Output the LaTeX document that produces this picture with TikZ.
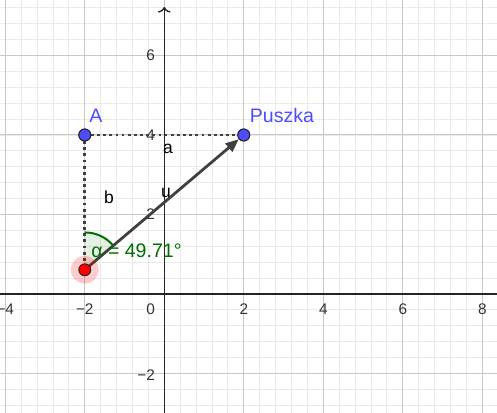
\documentclass[tikz,border=0pt]{standalone}
\usepackage{fontspec}
\setmainfont{Liberation Sans}
\usetikzlibrary{arrows.meta}
\definecolor{ptblue}{RGB}{77,77,255}
\definecolor{anggreen}{RGB}{0,110,0}
\definecolor{vecgray}{RGB}{64,64,64}
\definecolor{majorgrid}{RGB}{200,200,200}
\definecolor{minorgrid}{RGB}{234,234,234}
\definecolor{axiscol}{RGB}{37,37,37}
\definecolor{ticktext}{RGB}{51,51,51}
\begin{document}
\begin{tikzpicture}[x=1cm,y=1cm,
  ticklab/.style={font=\fontsize{11}{12}\selectfont, text=ticktext, inner sep=0pt},
  ptlabel/.style={font=\fontsize{14}{16}\selectfont, text=ptblue, inner sep=0pt},
  seglabel/.style={font=\fontsize{12.5}{14}\selectfont, text=black, inner sep=0pt},
  anglabel/.style={font=\fontsize{14}{16}\selectfont, text=anggreen, inner sep=0pt},
  pt/.style={circle, draw=black!85, line width=0.7pt, minimum size=0.3cm, inner sep=0pt},
  dotline/.style={draw=vecgray, line width=2pt, dash pattern=on 2pt off 2.4pt},
  minorline/.style={draw=minorgrid, line width=0.6pt},
  majorline/.style={draw=majorgrid, line width=0.7pt},
  axisline/.style={draw=axiscol, line width=1pt},
]
\useasboundingbox (-4.133,-2.969) rectangle (8.370,7.396);
\fill[white] (-4.133,-2.969) rectangle (8.370,7.396);
\clip (-4.133,-2.969) rectangle (8.370,7.396);
% minor grid
\foreach \i in {-11,...,22} \draw[minorline] ({0.4*\i},-3.2) -- ({0.4*\i},7.6);
\foreach \j in {-8,...,19} \draw[minorline] (-4.4,{0.4*\j}) -- (8.8,{0.4*\j});
% major grid
\foreach \i in {-4,-2,...,8} \draw[majorline] (\i,-3.2) -- (\i,7.6);
\foreach \j in {-2,0,...,6} \draw[majorline] (-4.4,\j) -- (8.8,\j);
% axes
\coordinate (xl) at (-4.3,0);
\coordinate (xr) at (8.5,0);
\coordinate (yb) at (0,-3.1);
\coordinate (yt) at (0,7.22);
\draw[axisline] (xl) -- (xr);
\draw[axisline, -{To[length=4pt, width=9pt]}] (yb) -- (yt);
% tick labels
\node[ticklab] (tx1) at (-4,-0.39) {−4};
\node[ticklab] (tx2) at (-2,-0.39) {−2};
\node[ticklab] (tx0) at (-0.34,-0.39) {0};
\node[ticklab] (tx3) at (2,-0.39) {2};
\node[ticklab] (tx4) at (4,-0.39) {4};
\node[ticklab] (tx5) at (6,-0.39) {6};
\node[ticklab] (tx6) at (8,-0.39) {8};
\node[ticklab, anchor=east] (ty1) at (-0.23,6) {6};
\node[ticklab, anchor=east] (ty2) at (-0.23,4) {4};
\node[ticklab, anchor=east] (ty3) at (-0.23,2) {2};
\node[ticklab, anchor=east] (ty4) at (-0.23,-2.03) {−2};
% points
\node[pt, fill=ptblue] (A) at (-2,4) {};
\node[pt, fill=ptblue] (P) at (2,4) {};
\coordinate (R0) at (-2,0.609);
% angle sector
\fill[anggreen, opacity=0.1] (R0) -- ++(40.29:0.94) arc[start angle=40.29, end angle=90, radius=0.94] -- cycle;
\draw[anggreen, line width=1.4pt] (R0) ++(40.29:0.94) arc[start angle=40.29, end angle=90, radius=0.94];
% dotted segments
\draw[dotline] (A.center) -- (P.center);
\draw[dotline] (A.center) -- (R0);
% vector u
\draw[vecgray, line width=2pt, -{Triangle[length=9.5pt, width=7.5pt]}] (R0) -- (P);
% red point with halo
\fill[red, opacity=0.2] (R0) circle (0.35);
\node[pt, fill=red] (R) at (R0) {};
\node[pt, fill=ptblue] at (A) {};
\node[pt, fill=ptblue] at (P) {};
% labels
\node[ptlabel] (Alab) at (-1.718,4.478) {A};
\node[ptlabel] (Plab) at (2.961,4.478) {Puszka};
\node[seglabel] (alab) at (0.093,3.648) {a};
\node[seglabel] (blab) at (-1.391,2.44) {b};
\node[seglabel] (ulab) at (0.043,2.541) {u};
\node[anglabel] (anglab) at (-0.70,1.089) {α = 49.71°};
\end{tikzpicture}
\end{document}
